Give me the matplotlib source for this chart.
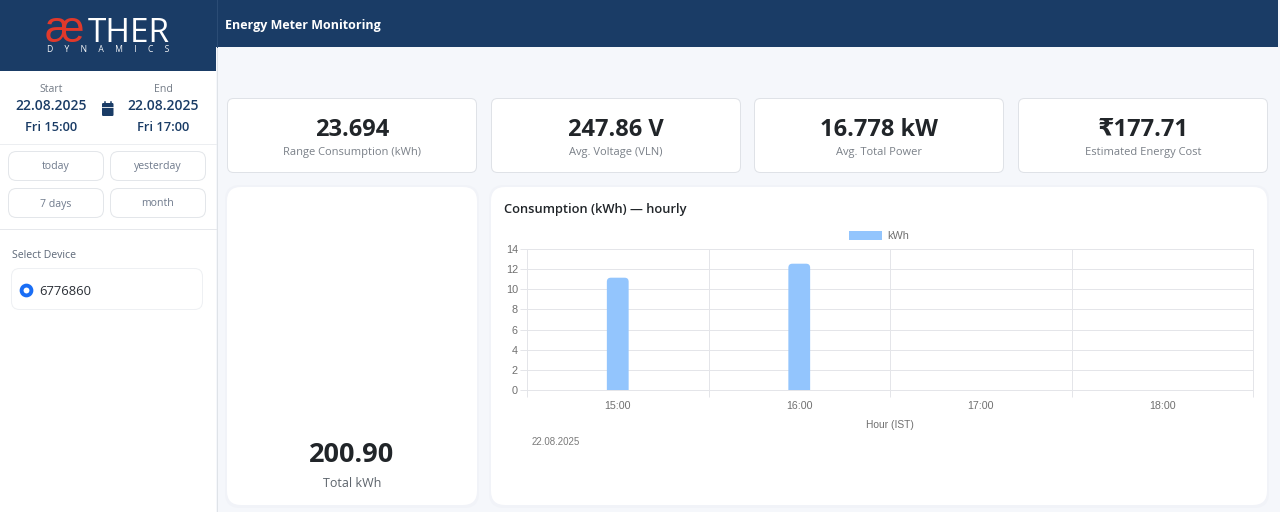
"""Energy meter dashboard with the hourly consumption bar chart."""

import matplotlib

matplotlib.use("Agg")
import matplotlib.pyplot as plt
from matplotlib.patches import FancyBboxPatch, Rectangle

UI_FONT = ["Open Sans", "DejaVu Sans"]
CHART_FONT = ["Liberation Sans", "DejaVu Sans"]

NAVY = "#1a3c66"
BAR_BLUE = "#93c5fd"
GRID = "#e4e5e9"
PAGE = "#f5f7fb"
SHADOW = "#f1f3f8"
PX = 0.72  # one pixel in points

hours = ["15:00", "16:00", "17:00", "18:00"]
kwh = [11.15, 12.54, 0, 0]
y_ticks = [0, 2, 4, 6, 8, 10, 12, 14]

kpi_values = ["23.694", "247.86 V", "16.778 kW", "₹177.71"]
kpi_labels = [
    "Range Consumption (kWh)",
    "Avg. Voltage (VLN)",
    "Avg. Total Power",
    "Estimated Energy Cost",
]
kpi_left = [227, 491, 754, 1018]
range_buttons = ["today", "yesterday", "7 days", "month"]
button_left = [8, 110, 8, 110]
button_top = [151, 151, 188, 188]


def rounded(ax, x0, y0, x1, y1, r, face="white", edge="none", z=1):
    box = FancyBboxPatch(
        (x0 + r, y0 + r),
        x1 - x0 - 2 * r,
        y1 - y0 - 2 * r,
        boxstyle=f"round,pad={r},rounding_size={r}",
        facecolor=face,
        edgecolor=edge,
        linewidth=PX,
        zorder=z,
    )
    ax.add_patch(box)


def label(ax, x, y, s, size, color, weight="normal", ha="center", family=None):
    ax.text(
        x,
        y,
        s,
        fontsize=size,
        color=color,
        fontweight=weight,
        ha=ha,
        va="center",
        family=family or UI_FONT,
        zorder=5,
    )


fig = plt.figure(figsize=(12.8, 5.12), dpi=100, facecolor=PAGE)

# whole page drawn in pixel coordinates
page = fig.add_axes([0, 0, 1, 1])
page.set_xlim(0, 1280)
page.set_ylim(512, 0)
page.axis("off")

page.add_patch(Rectangle((0, 0), 216, 512, facecolor="white", edgecolor="none"))
page.plot([216.5, 216.5], [0, 512], color="#dfe3e8", lw=PX, zorder=2)
page.add_patch(Rectangle((0, 0), 1278, 47, facecolor=NAVY, edgecolor="none", zorder=2))
page.add_patch(Rectangle((0, 0), 216, 71, facecolor=NAVY, edgecolor="none", zorder=2))
page.plot([216.5, 216.5], [0, 47], color="#2b4c75", lw=PX, zorder=3)

# logo
label(page, 64.5, 30.5, "æ", 32, "#e0392b", family=["Liberation Sans"])
label(page, 128.5, 34, "THER", 24, "white", family=["Open Sans"])
label(page, 108.5, 50, "     ".join("DYNAMICS"), 6.2, "#f1f3f6", family=["Open Sans"])
label(page, 225, 25.5, "Energy Meter Monitoring", 9, "white", "bold", ha="left")

# date range
label(page, 51.5, 89, "Start", 7.6, "#737b86")
label(page, 163, 89, "End", 7.6, "#737b86")
label(page, 51.5, 106, "22.08.2025", 10, NAVY, "semibold")
label(page, 163, 106, "22.08.2025", 10, NAVY, "semibold")
label(page, 51.5, 127.5, "Fri 15:00", 9.3, NAVY, "semibold")
label(page, 163, 127.5, "Fri 17:00", 9.3, NAVY, "semibold")
rounded(page, 102, 103, 113.5, 116, 1.2, face=NAVY, z=3)
page.plot([102, 113.5], [106.5, 106.5], color="white", lw=0.6, zorder=4)
page.plot([104.5, 104.5], [101.5, 104], color=NAVY, lw=1.1, zorder=4)
page.plot([111, 111], [101.5, 104], color=NAVY, lw=1.1, zorder=4)

page.plot([0, 216], [143.5, 143.5], color="#eceef1", lw=PX, zorder=2)
page.plot([0, 216], [228.5, 228.5], color="#e6e8ec", lw=PX, zorder=2)

for text, left, top in zip(range_buttons, button_left, button_top):
    rounded(page, left + 0.5, top + 0.5, left + 95.5, top + 29.5, 8, edge="#e3e6ea", z=3)
    label(page, left + 48, top + 16, text, 7.6, "#6f7a8c")

label(page, 12, 255.5, "Select Device", 7.6, "#5d6878", ha="left")
rounded(page, 11.5, 268.5, 202.5, 309.5, 8, edge="#eef0f3", z=3)
page.scatter([26], [290], s=50, facecolor="white", edgecolor="#1a6ef5", linewidth=2.8, zorder=4)
label(page, 39, 291.5, "6776860", 9.4, "#2a2f36", ha="left")

# KPI cards
for value, text, left in zip(kpi_values, kpi_labels, kpi_left):
    rounded(page, left + 0.5, 98.5, left + 249.5, 172.5, 6, edge="#dfe2e7", z=3)
    label(page, left + 125, 129.5, value, 17, "#212529", "bold")
    label(page, left + 125, 152, text, 8, "#7a8088")

# lower cards, with a faint shadow ring around them
rounded(page, 225, 185, 479, 508, 15, face=SHADOW, z=2)
rounded(page, 227, 187, 477, 505, 14, z=3)
label(page, 352, 455, "200.90", 19.5, "#212529", "bold")
label(page, 352, 483.5, "Total kWh", 9, "#5d646c")

rounded(page, 489, 185, 1269, 508, 15, face=SHADOW, z=2)
rounded(page, 491, 187, 1267, 505, 14, z=3)
label(page, 504, 209.5, "Consumption (kWh) — hourly", 9.3, "#212529", "semibold", ha="left")
label(page, 532, 442, "22.08.2025", 7, "#7b7b7b", ha="left", family=CHART_FONT)

# hourly bars on their own axes
ax = fig.add_axes([527 / 1280, 1 - 390 / 512, (1253 - 527) / 1280, (390 - 249) / 512])
ax.patch.set_alpha(0)
ax.set_xlim(-0.5, 3.5)
ax.set_ylim(0, 14)
bars = ax.bar(range(len(hours)), kwh, width=0.12, color=BAR_BLUE, label="kWh", zorder=3)

# round the top corners, the bottom ones stay below the axis and get clipped
rx = 0.022
ry = rx * (726 / 4) / (141 / 14)
for rect in bars:
    if rect.get_height() <= 0:
        continue
    x0, w, h = rect.get_x(), rect.get_width(), rect.get_height()
    rect.set_visible(False)
    ax.add_patch(
        FancyBboxPatch(
            (x0 + rx, -1),
            w - 2 * rx,
            h + 1 - ry,
            boxstyle=f"round,pad={rx},rounding_size={rx}",
            mutation_aspect=ry / rx,
            facecolor=BAR_BLUE,
            edgecolor="none",
            zorder=3,
        )
    )

ax.set_yticks(y_ticks)
ax.set_xticks([-0.5, 0.5, 1.5, 2.5, 3.5])
ax.set_xticklabels([])
ax.set_xticks(range(len(hours)), labels=hours, minor=True)
ax.grid(True, which="major", color=GRID, lw=PX, zorder=0)
ax.tick_params(axis="y", length=5, width=PX, color=GRID, labelcolor="#707070", labelsize=7.8, pad=1.5)
ax.tick_params(axis="x", which="major", length=5, width=PX, color=GRID)
ax.tick_params(axis="x", which="minor", length=0, labelcolor="#707070", labelsize=7.7, pad=8.2)
for tick in ax.get_yticklabels() + ax.get_xticklabels(minor=True):
    tick.set_family(CHART_FONT)
for side in ax.spines.values():
    side.set_color(GRID)
    side.set_linewidth(PX)
ax.set_xlabel("Hour (IST)", fontsize=7.4, color="#707070", family=CHART_FONT, labelpad=6)
ax.legend(
    handles=[Rectangle((0, 0), 1, 1, facecolor=BAR_BLUE)],
    labels=["kWh"],
    loc="lower center",
    bbox_to_anchor=(0.485, 1.0),
    frameon=False,
    handlelength=3,
    handleheight=0.9,
    handletextpad=0.45,
    borderpad=0.2,
    prop={"family": CHART_FONT, "size": 7.8},
    labelcolor="#707070",
)

fig.savefig("out.png", dpi=100)
plt.close(fig)
